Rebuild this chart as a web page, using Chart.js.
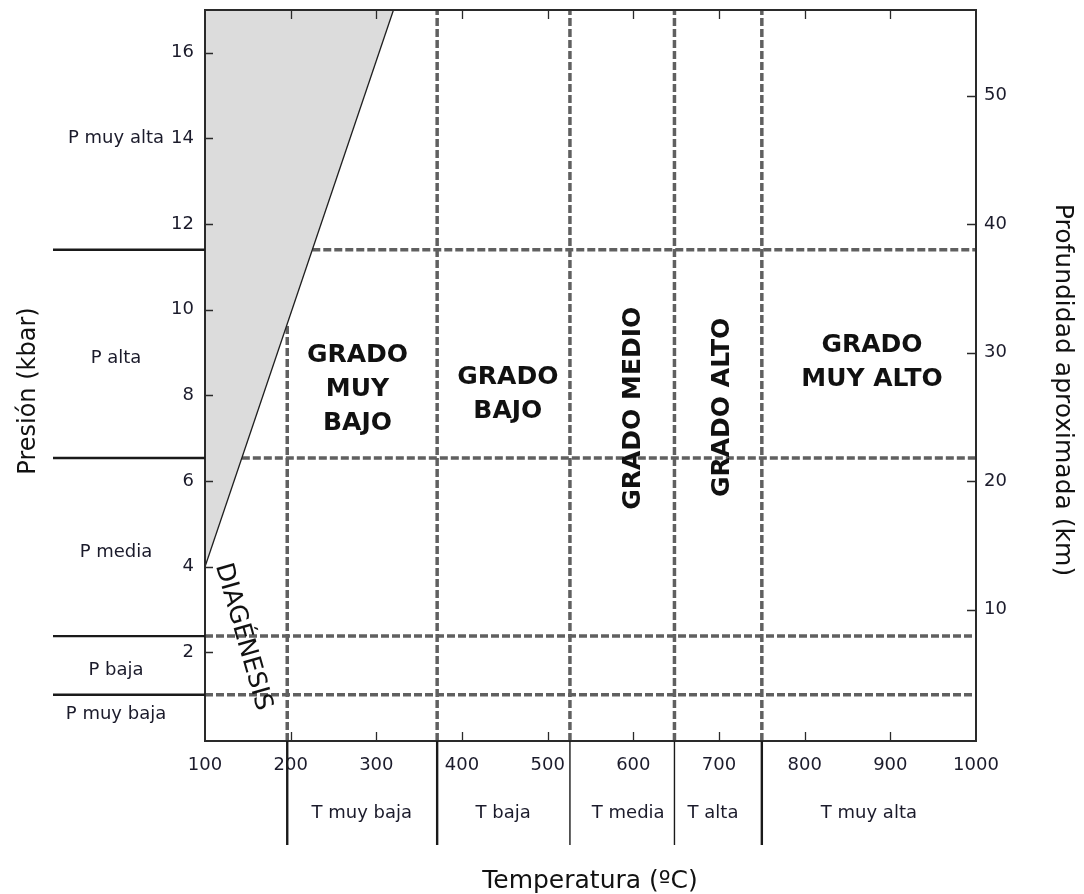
<!DOCTYPE html>
<html lang="es">
<head>
<meta charset="utf-8">
<title>Grados de metamorfismo</title>
<script src="https://cdn.jsdelivr.net/npm/chart.js@4.4.1/dist/chart.umd.min.js"></script>
<style>
  html, body { margin: 0; padding: 0; background: #fff; }
  #wrap { width: 1084px; height: 894px; }
</style>
</head>
<body>
<div id="wrap"><canvas id="c" width="1084" height="894"></canvas></div>
<script>
// ---- Data ---------------------------------------------------------------
// Axis ticks: temperature (ºC), pressure (kbar), approximate depth (km)
const tempTicks = [100, 200, 300, 400, 500, 600, 700, 800, 900, 1000];
const pressureTicks = [2, 4, 6, 8, 10, 12, 14, 16];
const depthTicks = [10, 20, 30, 40, 50];
const kmPerKbar = 10 / 3;

// Axis ranges
const tempRange = [100, 1000];
const pressureRange = [-0.07, 17];

// Limit of the inaccessible (grey) P-T field, as (T, P) end points
const limitT = [100, 320];
const limitP = [4, 17];

// Boundaries between metamorphic grades (ºC) and pressure classes (kbar)
const gradeBoundsT = [196, 371, 526, 648, 750];
const pressureBoundsP = [1.01, 2.38, 6.54, 11.4];

// Class names
const tempClasses = ['T muy baja', 'T baja', 'T media', 'T alta', 'T muy alta'];
const pressureClasses = ['P muy alta', 'P alta', 'P media', 'P baja', 'P muy baja'];
const gradeNames = [['GRADO', 'MUY', 'BAJO'], ['GRADO', 'BAJO'], ['GRADO MEDIO'], ['GRADO ALTO'], ['GRADO', 'MUY ALTO']];
const diagenesisName = 'DIAGÉNESIS';

// ---- Helpers ------------------------------------------------------------
const slope = (limitP[1] - limitP[0]) / (limitT[1] - limitT[0]);
const limitPAt = t => limitP[0] + (t - limitT[0]) * slope;
const limitTAt = p => limitT[0] + (p - limitP[0]) / slope;

const FONT = "'DejaVu Sans', 'Verdana', sans-serif";
const TEXT = '#1b1b2b';
const DASH = '#606060';

// Label anchors in data units (T for x, P for y)
const tempClassLabelT = [283, 448, 594, 693, 875];
const pressureClassLabelP = [14.0, 8.87, 4.34, 1.59, 0.56];
const gradeLabelT = [278, 453.5, 600.3, 703.6, 878.6];
const gradeLabelP = [8.14, 8.01, 7.70, 7.72, 8.77];
const gradeLabelRot = [0, 0, -90, -90, 0];
const diagenesisT = 144.3, diagenesisP = 2.36;

// ---- Datasets -----------------------------------------------------------
const datasets = [];

// Grey field above the limit line
datasets.push({
  data: limitT.map((t, i) => ({ x: t, y: limitP[i] })),
  showLine: true,
  fill: 'end',
  backgroundColor: '#dcdcdc',
  borderColor: '#1e1e1e',
  borderWidth: 1.3,
  pointRadius: 0,
  order: 0
});

// Dashed pressure boundaries, starting at the limit line
pressureBoundsP.forEach(p => {
  const t0 = p > limitP[0] ? limitTAt(p) : tempRange[0];
  datasets.push({
    data: [{ x: t0, y: p }, { x: tempRange[1], y: p }],
    showLine: true, fill: false,
    borderColor: DASH, borderWidth: 3.5, borderDash: [8, 3],
    pointRadius: 0, order: 5
  });
});

// Dashed grade boundaries, ending at the limit line
gradeBoundsT.forEach(t => {
  const pTop = t < limitT[1] ? limitPAt(t) : pressureRange[1];
  datasets.push({
    data: [{ x: t, y: pressureRange[0] }, { x: t, y: pTop }],
    showLine: true, fill: false,
    borderColor: DASH, borderWidth: 3.5, borderDash: [8, 3],
    pointRadius: 0, order: 5
  });
});

// ---- Decorations --------------------------------------------------------
function text(ctx, str, x, y, font, rot, color) {
  ctx.save();
  ctx.translate(x, y);
  if (rot) ctx.rotate(rot * Math.PI / 180);
  ctx.font = font;
  ctx.fillStyle = color;
  ctx.textAlign = 'center';
  ctx.textBaseline = 'middle';
  ctx.fillText(str, 0, 0);
  ctx.restore();
}

const decorations = {
  id: 'decorations',
  afterDatasetsDraw(chart) {
    const ctx = chart.ctx;
    const xs = chart.scales.x, ys = chart.scales.y, y2 = chart.scales.y2;
    const a = chart.chartArea;

    ctx.save();
    // Frame
    ctx.strokeStyle = '#2a2a2a';
    ctx.lineWidth = 2;
    ctx.strokeRect(a.left, a.top, a.right - a.left, a.bottom - a.top);

    // Inward tick marks
    ctx.lineWidth = 1.3;
    ctx.beginPath();
    tempTicks.forEach(t => {
      if (t === tempRange[0] || t === tempRange[1]) return;
      const px = Math.round(xs.getPixelForValue(t)) + 0.5;
      ctx.moveTo(px, a.bottom); ctx.lineTo(px, a.bottom - 9);
      ctx.moveTo(px, a.top); ctx.lineTo(px, a.top + 9);
    });
    pressureTicks.forEach(p => {
      const py = Math.round(ys.getPixelForValue(p)) + 0.5;
      ctx.moveTo(a.left, py); ctx.lineTo(a.left + 8, py);
    });
    depthTicks.forEach(d => {
      const py = Math.round(y2.getPixelForValue(d)) + 0.5;
      ctx.moveTo(a.right, py); ctx.lineTo(a.right - 9, py);
    });
    ctx.stroke();

    // Pressure class separators, left of the axis
    ctx.strokeStyle = '#1a1a1a';
    ctx.lineWidth = 2.4;
    ctx.beginPath();
    pressureBoundsP.forEach(p => {
      const py = ys.getPixelForValue(p);
      ctx.moveTo(53, py); ctx.lineTo(a.left, py);
    });
    ctx.stroke();

    // Temperature class separators, below the axis
    gradeBoundsT.forEach((t, i) => {
      const px = xs.getPixelForValue(t);
      ctx.lineWidth = (i === 2 || i === 3) ? 1.4 : 2.4;
      ctx.beginPath();
      ctx.moveTo(px, a.bottom); ctx.lineTo(px, 845);
      ctx.stroke();
    });

    // Class names
    const small = '18px ' + FONT;
    pressureClasses.forEach((s, i) => text(ctx, s, 116, ys.getPixelForValue(pressureClassLabelP[i]), small, 0, TEXT));
    tempClasses.forEach((s, i) => text(ctx, s, xs.getPixelForValue(tempClassLabelT[i]), 813, small, 0, TEXT));

    // Grade names
    const bold = 'bold 25px ' + FONT;
    gradeNames.forEach((lines, i) => {
      const cx = xs.getPixelForValue(gradeLabelT[i]);
      const cy = ys.getPixelForValue(gradeLabelP[i]);
      const lh = 34;
      lines.forEach((ln, j) => {
        const off = (j - (lines.length - 1) / 2) * lh;
        text(ctx, ln, cx, cy + off, bold, gradeLabelRot[i], '#111');
      });
    });

    // Diagenesis, written along the limit line direction
    text(ctx, diagenesisName, xs.getPixelForValue(diagenesisT), ys.getPixelForValue(diagenesisP),
         '25px ' + FONT, 74, '#111');

    // Axis titles
    text(ctx, 'Presión (kbar)', 29, 391, '24px ' + FONT, -90, '#111');
    text(ctx, 'Profundidad aproximada (km)', 1062, 390, '25px ' + FONT, 90, '#111');
    text(ctx, 'Temperatura (ºC)', 590, 881, '25px ' + FONT, 0, '#111');
    ctx.restore();
  }
};

// ---- Chart --------------------------------------------------------------
const tickFont = { family: FONT, size: 18 };
const plain = v => String(v);

new Chart(document.getElementById('c'), {
  type: 'scatter',
  data: { datasets },
  options: {
    responsive: false,
    animation: false,
    layout: { padding: { top: 10, left: 0, right: 0, bottom: 0 } },
    plugins: { legend: { display: false }, tooltip: { enabled: false } },
    scales: {
      x: {
        type: 'linear', position: 'bottom',
        min: tempRange[0], max: tempRange[1],
        grid: { display: false, drawTicks: false },
        border: { display: false },
        afterBuildTicks: s => { s.ticks = tempTicks.map(v => ({ value: v })); },
        afterFit: s => { s.height = 153; s.paddingLeft = 0; s.paddingRight = 0; },
        ticks: { font: tickFont, color: TEXT, padding: 14, maxRotation: 0, autoSkip: false, callback: plain }
      },
      y: {
        type: 'linear', position: 'left',
        min: pressureRange[0], max: pressureRange[1],
        grid: { display: false, drawTicks: false },
        border: { display: false },
        afterBuildTicks: s => { s.ticks = pressureTicks.map(v => ({ value: v })); },
        afterFit: s => { s.width = 205; s.paddingTop = 0; s.paddingBottom = 0; },
        ticks: { font: tickFont, color: TEXT, padding: 11, callback: plain }
      },
      y2: {
        type: 'linear', position: 'right',
        min: pressureRange[0] * kmPerKbar, max: pressureRange[1] * kmPerKbar,
        grid: { display: false, drawTicks: false },
        border: { display: false },
        afterBuildTicks: s => { s.ticks = depthTicks.map(v => ({ value: v })); },
        afterFit: s => { s.width = 108; s.paddingTop = 0; s.paddingBottom = 0; },
        ticks: { font: tickFont, color: TEXT, padding: 8, callback: plain }
      }
    }
  },
  plugins: [decorations]
});
</script>
</body>
</html>
